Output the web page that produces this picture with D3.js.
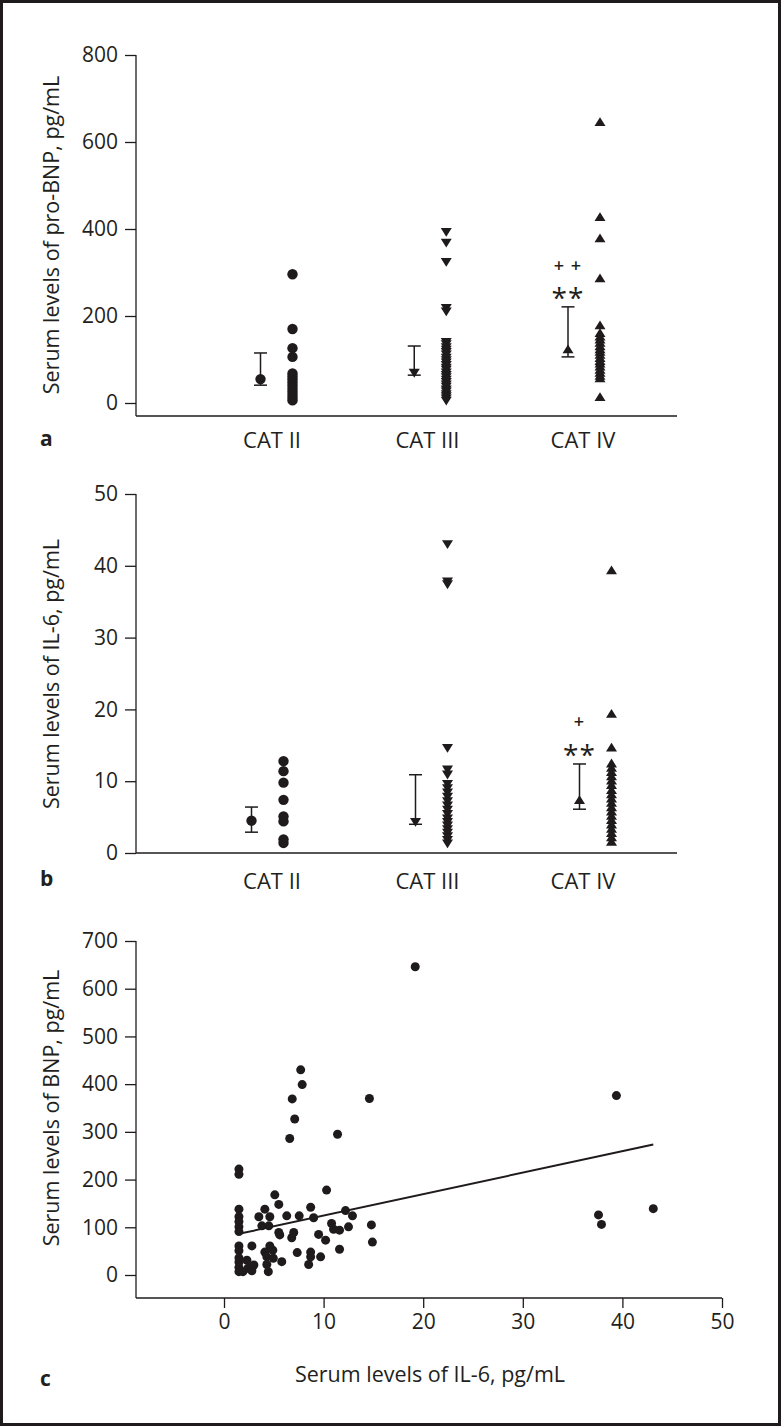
<!DOCTYPE html>
<html><head><meta charset="utf-8">
<script src="https://cdn.jsdelivr.net/npm/d3@7"></script>
<style>
html,body{margin:0;padding:0;background:#fff;}
svg{display:block;}
text{font-family:"Open Sans",sans-serif;fill:#231f20;}
</style></head>
<body>
<svg id="chart" width="781" height="1426"></svg>
<script>
// ---------------- DATA ----------------
const categories = ["CAT II", "CAT III", "CAT IV"];

// Panel a: pro-BNP (pg/mL) individual values per category
const bnpII  = [296, 170, 126, 106, 68, 61, 54, 47, 40, 33, 26, 19, 12, 6];
const bnpIII = [393, 368, 324, 218, 210, 140, 135, 128, 122, 117, 111, 104, 98, 93, 87, 81, 76, 70, 64, 59, 53, 48, 42, 37, 31, 26, 20, 15, 10, 5];
const bnpIV  = [646, 428, 379, 287, 179, 161, 153, 146, 139, 131, 124, 118, 111, 104, 97, 91, 84, 77, 70, 63, 57, 14];
const bnpMean = [55, 69, 124];
const bnpLow  = [41, 64, 106];
const bnpHigh = [115, 131, 221];
const bnpSig  = ["", "", "++"];

// Panel b: IL-6 (pg/mL)
const il6II  = [12.8, 11.4, 9.8, 7.4, 5.1, 4.4, 1.9, 1.4];
const il6III = [43.0, 37.8, 37.4, 14.6, 11.6, 10.9, 9.6, 9.0, 8.4, 7.8, 7.2, 6.6, 6.0, 5.4, 4.8, 4.3, 3.8, 3.3, 2.8, 2.3, 1.8, 1.3];
const il6IV  = [39.4, 19.4, 14.7, 12.5, 11.9, 11.3, 10.7, 10.1, 9.5, 8.8, 8.2, 7.6, 7.0, 6.4, 5.8, 5.2, 4.6, 4.0, 3.4, 2.8, 2.2, 1.6];
const il6Mean = [4.5, 4.3, 7.4];
const il6Low  = [2.9, 4.0, 6.1];
const il6High = [6.4, 10.9, 12.4];
const il6Sig  = ["", "", "+"];

// Panel c: scatter IL-6 vs BNP
const scatterIL6 = [19.2, 7.7, 7.85, 6.85, 14.6, 7.1, 6.6, 11.4, 39.4, 1.5, 1.5, 10.3, 5.1, 5.5, 4.1, 1.5, 1.5, 1.5, 1.5, 1.5,
  8.7, 3.5, 4.6, 6.3, 7.55, 9.0, 12.2, 12.9, 3.8, 4.5, 10.8, 12.5, 11.0, 11.6, 14.8, 5.5, 5.6, 7.0, 6.8, 9.5,
  10.2, 14.9, 1.5, 1.5, 2.8, 4.6, 4.1, 4.9, 4.3, 4.95, 7.35, 8.7, 8.7, 11.6, 9.7, 5.8, 8.5, 1.5, 1.5, 1.5,
  1.5, 2.3, 2.4, 3.0, 2.8, 4.3, 4.45, 1.9, 37.6, 37.9, 43.1];
const scatterBNP = [646, 430, 399, 369, 370, 327, 286, 295, 376, 222, 211, 178, 168, 148, 138, 138, 122, 112, 101, 91,
  142, 122, 122, 124, 124, 120, 135, 124, 103, 103, 108, 101, 96, 94, 105, 89, 84, 89, 78, 85,
  73, 69, 61, 51, 61, 61, 48, 52, 38, 35, 47, 48, 38, 54, 38, 28, 22, 36, 27, 16,
  7, 31, 14, 21, 9, 22, 7, 7, 126, 106, 139];
const regIntercept = 79.5;
const regSlope = 4.5;

const ticksA = [0, 200, 400, 600, 800];
const ticksB = [0, 10, 20, 30, 40, 50];
const ticksCY = [0, 100, 200, 300, 400, 500, 600, 700];
const ticksCX = [0, 10, 20, 30, 40, 50];

// ---------------- DRAW ----------------
const svg = d3.select("#chart");
const ink = "#1f1b1c";
const fontTick = 21, fontCat = 22, fontTitle = 21.5;

svg.append("rect").attr("x", 1.5).attr("y", 1.5).attr("width", 778).attr("height", 1423)
  .attr("fill", "none").attr("stroke", ink).attr("stroke-width", 3);

const axisX0 = 136;

function triUp(s) { return `M0,${-s*0.85}L${s},${s*0.75}L${-s},${s*0.75}Z`; }
function triDown(s) { return `M0,${s*0.85}L${s},${-s*0.75}L${-s},${-s*0.75}Z`; }
function marker(g, type, x, y) {
  if (type === "circle") {
    g.append("circle").attr("cx", x).attr("cy", y).attr("r", 5.2).attr("fill", ink);
  } else {
    g.append("path").attr("transform", `translate(${x},${y})`)
      .attr("d", type === "up" ? triUp(5.5) : triDown(5.5)).attr("fill", ink);
  }
}

function yAxisLeft(y, ticks, yTop, yBottom) {
  const g = svg.append("g").attr("transform", `translate(${axisX0},0)`);
  g.call(d3.axisLeft(y).tickValues(ticks).tickSize(11).tickPadding(7).tickFormat(d3.format("d")));
  g.select(".domain").remove();
  g.selectAll(".tick line").attr("stroke", ink).attr("stroke-width", 1.3);
  g.selectAll(".tick text").attr("font-size", fontTick).attr("font-family", "Open Sans").attr("fill", ink);
  g.append("line").attr("x1", 0).attr("x2", 0).attr("y1", yTop).attr("y2", yBottom)
    .attr("stroke", ink).attr("stroke-width", 1.3);
  return g;
}

function stripPanel(opts) {
  const { y, ticks, yTop, axisY, xEnd, groups, mean, low, high, sig, title, titleY, letter, letterY, xPos, labelY, sigY1, sigY2 } = opts;
  yAxisLeft(y, ticks, yTop, axisY);
  svg.append("line").attr("x1", axisX0).attr("x2", xEnd).attr("y1", axisY).attr("y2", axisY)
    .attr("stroke", ink).attr("stroke-width", 1.3);
  const xLab = d3.scalePoint(categories, [272, 583]);
  svg.append("g").selectAll("text").data(categories).join("text")
    .attr("x", d => xLab(d)).attr("y", labelY).attr("text-anchor", "middle")
    .attr("font-size", fontCat).text(d => d);
  const types = ["circle", "down", "up"];
  const g = svg.append("g");
  categories.forEach((c, i) => {
    const cx = xPos(c);
    const mx = cx - 16, sx = cx + 16;
    // error bar
    g.append("line").attr("x1", mx).attr("x2", mx).attr("y1", y(low[i])).attr("y2", y(high[i]))
      .attr("stroke", ink).attr("stroke-width", 1.5);
    [low[i], high[i]].forEach(v => {
      g.append("line").attr("x1", mx - 6.5).attr("x2", mx + 6.5).attr("y1", y(v)).attr("y2", y(v))
        .attr("stroke", ink).attr("stroke-width", 1.5);
    });
    marker(g, types[i], mx, y(mean[i]));
    groups[i].forEach(v => marker(g, types[i], sx, y(v)));
    if (sig[i]) {
      svg.append("text").attr("x", mx).attr("y", sigY1).attr("text-anchor", "middle")
        .attr("font-size", 18).attr("font-weight", 600).attr("letter-spacing", 1)
        .text(sig[i].split("").join(" "));
      svg.append("text").attr("x", mx).attr("y", sigY2).attr("text-anchor", "middle")
        .attr("font-size", 28).attr("letter-spacing", 1).text("**");
    }
  });
  svg.append("text").attr("transform", `translate(59,${titleY}) rotate(-90)`)
    .attr("text-anchor", "middle").attr("font-size", fontTitle).text(title);
  svg.append("text").attr("x", 40).attr("y", letterY).attr("font-size", 21).attr("font-weight", "bold").text(letter);
}

// Panel a
const ya = d3.scaleLinear().domain([0, 800]).range([403, 55]);
stripPanel({
  y: ya, ticks: ticksA, yTop: 55, axisY: 416, xEnd: 677,
  groups: [bnpII, bnpIII, bnpIV], mean: bnpMean, low: bnpLow, high: bnpHigh, sig: bnpSig,
  title: "Serum levels of pro-BNP, pg/mL", titleY: 235, letter: "a", letterY: 446,
  xPos: d3.scalePoint(categories, [276.5, 584]), labelY: 448, sigY1: 272, sigY2: 308
});

// Panel b
const yb = d3.scaleLinear().domain([0, 50]).range([853, 494]);
stripPanel({
  y: yb, ticks: ticksB, yTop: 494, axisY: 853, xEnd: 677,
  groups: [il6II, il6III, il6IV], mean: il6Mean, low: il6Low, high: il6High, sig: il6Sig,
  title: "Serum levels of IL-6, pg/mL", titleY: 674, letter: "b", letterY: 886,
  xPos: d3.scalePoint(categories, [267.5, 595.5]), labelY: 889, sigY1: 728, sigY2: 765
});

// Panel c
const xc = d3.scaleLinear().domain([0, 50]).range([224, 722]);
const yc = d3.scaleLinear().domain([0, 700]).range([1275, 941]);
yAxisLeft(yc, ticksCY, 941, 1298);
const gx = svg.append("g").attr("transform", "translate(0,1298)");
gx.call(d3.axisBottom(xc).tickValues(ticksCX).tickSize(10).tickPadding(6).tickFormat(d3.format("d")));
gx.select(".domain").remove();
gx.selectAll(".tick line").attr("stroke", ink).attr("stroke-width", 1.3);
gx.selectAll(".tick text").attr("font-size", fontTick).attr("font-family", "Open Sans").attr("fill", ink);
svg.append("line").attr("x1", axisX0).attr("x2", xc(50)).attr("y1", 1298).attr("y2", 1298)
  .attr("stroke", ink).attr("stroke-width", 1.3);

const pts = scatterIL6.map((v, i) => ({ x: v, y: scatterBNP[i] }));
svg.append("g").selectAll("circle").data(pts).join("circle")
  .attr("cx", d => xc(d.x)).attr("cy", d => yc(d.y)).attr("r", 4.5).attr("fill", ink);

const xMin = d3.min(scatterIL6), xMax = d3.max(scatterIL6);
svg.append("line")
  .attr("x1", xc(xMin)).attr("y1", yc(regIntercept + regSlope * xMin))
  .attr("x2", xc(xMax)).attr("y2", yc(regIntercept + regSlope * xMax))
  .attr("stroke", ink).attr("stroke-width", 2);

svg.append("text").attr("transform", `translate(59,1108) rotate(-90)`)
  .attr("text-anchor", "middle").attr("font-size", fontTitle).text("Serum levels of BNP, pg/mL");
svg.append("text").attr("x", 430).attr("y", 1382).attr("text-anchor", "middle")
  .attr("font-size", fontTitle).text("Serum levels of IL-6, pg/mL");
svg.append("text").attr("x", 40).attr("y", 1386).attr("font-size", 21).attr("font-weight", "bold").text("c");
</script>
</body></html>
